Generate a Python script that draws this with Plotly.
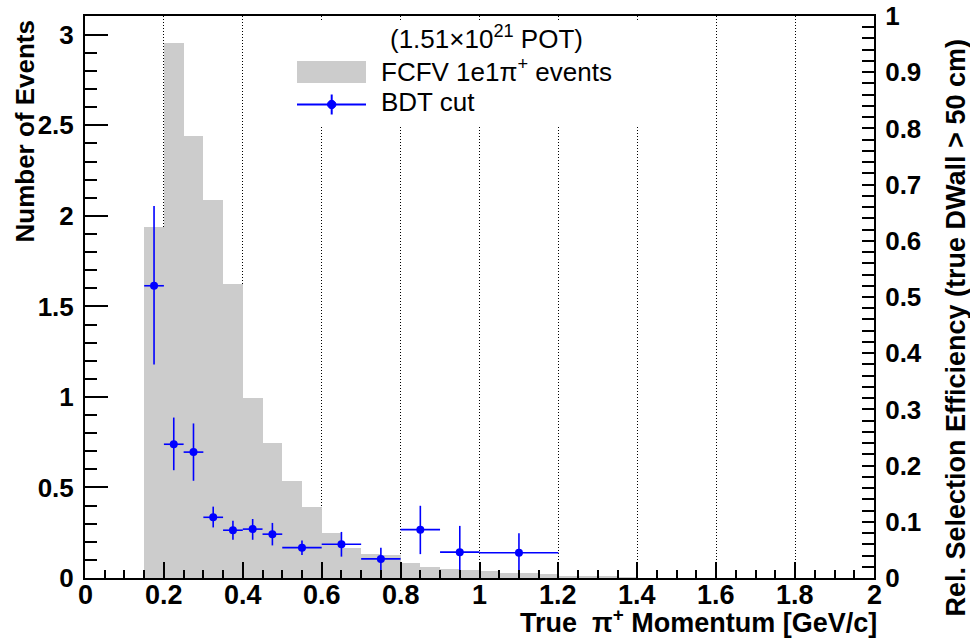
import plotly.graph_objects as go

# ---------------- data ----------------
# Histogram: FCFV 1e1pi+ events (left axis, Number of Events), 0.05 GeV/c bins
hist_lo_edges = [0.15, 0.20, 0.25, 0.30, 0.35, 0.40, 0.45, 0.50, 0.55, 0.60,
                 0.65, 0.70, 0.75, 0.80, 0.85, 0.90, 0.95, 1.00, 1.05, 1.10,
                 1.15, 1.20, 1.25, 1.30, 1.35]
hist_counts = [1.94, 2.956, 2.44, 2.09, 1.625, 0.995, 0.745, 0.537, 0.394, 0.25,
               0.167, 0.132, 0.125, 0.085, 0.06, 0.048, 0.046, 0.037, 0.026, 0.026,
               0.024, 0.013, 0.013, 0.010, 0.005]
hist_bin_width = 0.05

# BDT cut: relative selection efficiency (right axis)
bdt_x = [0.175, 0.225, 0.275, 0.325, 0.375, 0.425, 0.475, 0.55, 0.65, 0.75, 0.85, 0.95, 1.10]
bdt_xerr = [0.025, 0.025, 0.025, 0.025, 0.025, 0.025, 0.025, 0.05, 0.05, 0.05, 0.05, 0.05, 0.10]
bdt_eff = [0.520, 0.238, 0.224, 0.108, 0.085, 0.087, 0.078, 0.054, 0.060, 0.034, 0.086, 0.046, 0.045]
bdt_err_up = [0.142, 0.0475, 0.051, 0.019, 0.017, 0.018, 0.020, 0.0126, 0.022, 0.020, 0.0425, 0.0467, 0.0345]
bdt_err_dn = [0.140, 0.0462, 0.051, 0.018, 0.017, 0.019, 0.020, 0.0129, 0.022, 0.021, 0.0435, 0.0457, 0.036]

x_ticks = [0, 0.2, 0.4, 0.6, 0.8, 1, 1.2, 1.4, 1.6, 1.8, 2]
x_tick_labels = ["0", "0.2", "0.4", "0.6", "0.8", "1", "1.2", "1.4", "1.6", "1.8", "2"]
y_left_max = 3.104
y_right_max = 1.0

hist_x = [e + hist_bin_width / 2 for e in hist_lo_edges]

# ---------------- figure ----------------
fig = go.Figure()

fig.add_trace(go.Bar(
    x=hist_x, y=hist_counts, width=[hist_bin_width] * len(hist_x),
    marker=dict(color="#cccccc", line=dict(width=0)),
    name="FCFV 1e1π⁺ events", showlegend=False, yaxis="y",
))

fig.add_trace(go.Scatter(
    x=bdt_x, y=bdt_eff, mode="markers", yaxis="y2",
    marker=dict(color="#0000ff", size=8, symbol="circle"),
    error_y=dict(type="data", symmetric=False, array=bdt_err_up, arrayminus=bdt_err_dn,
                 color="#0000ff", thickness=1.6, width=0),
    error_x=dict(type="data", array=bdt_xerr, color="#0000ff", thickness=1.6, width=0),
    name="BDT cut", showlegend=False, cliponaxis=True,
))

L, R, T, B = 85, 96, 16, 60
W, H = 970, 638
PW, PH = W - L - R, H - T - B


def px(xp):
    return (xp - L) / PW


def py(yp):
    return (H - B - yp) / PH


tickfont_y = dict(family="Liberation Sans", size=26, color="black", weight="bold")
tickfont_x = dict(family="Liberation Sans", size=27, color="black", weight="bold")

fig.update_layout(
    width=W, height=H,
    margin=dict(l=L, r=R, t=T, b=B, autoexpand=False),
    paper_bgcolor="white", plot_bgcolor="white",
    bargap=0,
    showlegend=False,
    xaxis=dict(
        range=[0, 2], tickvals=x_ticks, ticks="inside", ticklen=16, tickwidth=2,
        tickcolor="black", showline=True, linecolor="black", linewidth=2, mirror=True,
        showgrid=True, gridcolor="black", gridwidth=1, griddash="1px,2px",
        zeroline=False, showticklabels=False, automargin=False,
        minor=dict(dtick=0.05, ticks="inside", ticklen=8, tickwidth=2, tickcolor="black",
                   showgrid=False),
    ),
    yaxis=dict(
        range=[0, y_left_max], dtick=0.5, tick0=0, ticks="inside", ticklen=23, tickwidth=2,
        tickcolor="black", showline=True, linecolor="black", linewidth=2,
        showgrid=False, zeroline=False, tickfont=tickfont_y, ticklabelstandoff=4,
        automargin=False,
        minor=dict(dtick=0.1, ticks="inside", ticklen=12, tickwidth=2, tickcolor="black"),
    ),
    yaxis2=dict(
        range=[0, y_right_max], dtick=0.1, tick0=0, overlaying="y", side="right",
        ticks="inside", ticklen=12, tickwidth=2, tickcolor="black",
        showline=True, linecolor="black", linewidth=2, showgrid=False, zeroline=False,
        tickfont=tickfont_y, ticklabelstandoff=4, automargin=False,
        minor=dict(dtick=0.02, ticks="inside", ticklen=12, tickwidth=2, tickcolor="black"),
    ),
)

# ---- x tick labels (placed on the x axis scale, ROOT-style offset) ----
for v, lab in zip(x_ticks, x_tick_labels):
    fig.add_annotation(
        text=lab, xref="x", yref="paper", x=v, y=py(595),
        xanchor="center", yanchor="middle", showarrow=False, font=tickfont_x, borderpad=0,
    )

# ---- axis titles (ROOT style) ----
fig.add_annotation(
    text="True  π<sup>+</sup> Momentum [GeV/c]", xref="paper", yref="paper",
    x=px(878), y=py(621), xanchor="right", yanchor="middle", showarrow=False, borderpad=0,
    font=dict(family="Liberation Sans", size=27, color="black", weight="bold"),
)
fig.add_annotation(
    text="Number of Events", xref="paper", yref="paper", textangle=-90,
    x=px(24), y=py(18), xanchor="center", yanchor="top", showarrow=False,
    font=dict(family="Liberation Sans", size=26, color="black", weight="bold"),
)
fig.add_annotation(
    text="Rel. Selection Efficiency (true DWall > 50 cm)", xref="paper", yref="paper",
    textangle=-90, x=px(955), y=py(38), xanchor="center", yanchor="top", showarrow=False,
    font=dict(family="Liberation Sans", size=27, color="black", weight="bold"),
)

# ---- legend (ROOT TLegend style) ----
fig.add_shape(type="rect", xref="paper", yref="paper", layer="above",
              x0=px(290), x1=px(650), y0=py(125), y1=py(21),
              fillcolor="white", line=dict(width=0))
fig.add_shape(type="rect", xref="paper", yref="paper", layer="above",
              x0=px(297), x1=px(366), y0=py(83), y1=py(61),
              fillcolor="#cccccc", line=dict(width=0))
fig.add_shape(type="line", xref="paper", yref="paper", layer="above",
              x0=px(297), x1=px(366), y0=py(104.5), y1=py(104.5),
              line=dict(color="#0000ff", width=2))
fig.add_shape(type="line", xref="paper", yref="paper", layer="above",
              x0=px(331.7), x1=px(331.7), y0=py(114.5), y1=py(94.5),
              line=dict(color="#0000ff", width=2))
fig.add_shape(type="circle", xref="paper", yref="paper", layer="above",
              x0=px(327.5), x1=px(335.9), y0=py(108.7), y1=py(100.3),
              fillcolor="#0000ff", line=dict(color="#0000ff", width=1))

legend_font = dict(family="Liberation Sans", size=26, color="black")
fig.add_annotation(
    text="(1.51×10<sup>21</sup> POT)", xref="paper", yref="paper",
    x=px(486), y=py(38), xanchor="center", yanchor="middle", showarrow=False, font=legend_font,
)
fig.add_annotation(
    text="FCFV 1e1π<sup>+</sup> events", xref="paper", yref="paper",
    x=px(379), y=py(70), xanchor="left", yanchor="middle", showarrow=False, font=legend_font,
)
fig.add_annotation(
    text="BDT cut", xref="paper", yref="paper",
    x=px(379), y=py(102), xanchor="left", yanchor="middle", showarrow=False, font=legend_font,
)

fig.write_html("out.html")
